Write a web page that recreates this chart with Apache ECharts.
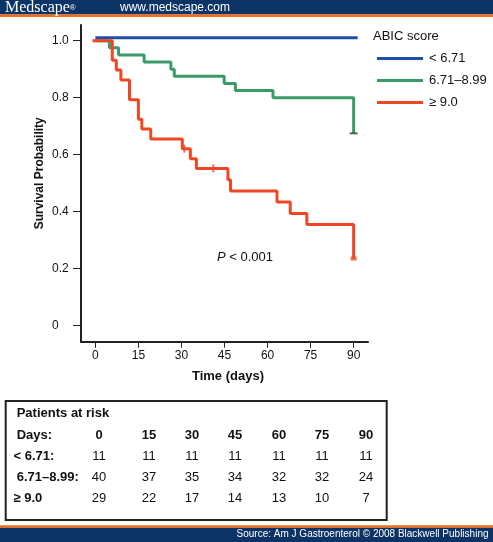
<!DOCTYPE html>
<html>
<head>
<meta charset="utf-8">
<script src="https://cdn.jsdelivr.net/npm/echarts@6/dist/echarts.min.js"></script>
<style>
html,body{margin:0;padding:0;background:#fff;}
#chart{width:493px;height:542px;}
</style>
</head>
<body>
<div id="chart"></div>
<script>
// ---- data ----
var seriesNames = ['< 6.71', '6.71\u20138.99', '\u2265 9.0'];
var lowScore = [[0, 1.01], [91.4, 1.01]];
var midScore = [[0, 1.0], [4.9, 0.975], [8.1, 0.95], [17, 0.925], [26.3, 0.9], [27.5, 0.875],
                [44.9, 0.85], [48.8, 0.825], [61.9, 0.8], [90, 0.675]];
var highScore = [[-1, 1.0], [5.9, 0.931], [7.3, 0.897], [8.9, 0.862], [11.9, 0.793], [15.0, 0.724],
                 [16.2, 0.69], [19.3, 0.655], [30.3, 0.621], [33.1, 0.586], [35.2, 0.552],
                 [46.2, 0.512], [47.1, 0.473], [63.3, 0.434], [67.9, 0.394], [73.7, 0.355], [90, 0.236]];
var highCensored = [[31, 0.621], [41.1, 0.552]];
var highEnd = [[90, 0.236]];
var midEnd = [[90, 0.675]];
var xTicks = [0, 15, 30, 45, 60, 75, 90];
var yTicks = [0, 0.2, 0.4, 0.6, 0.8, 1.0];
var riskDays = [0, 15, 30, 45, 60, 75, 90];
var riskLow = [11, 11, 11, 11, 11, 11, 11];
var riskMid = [40, 37, 35, 34, 32, 32, 24];
var riskHigh = [29, 22, 17, 14, 13, 10, 7];
var riskRowLabels = ['< 6.71:', '6.71\u20138.99:', '\u2265 9.0'];

// ---- styles / layout ----
var FONT = 'Liberation Sans, Arial, Helvetica, sans-serif';
var BLUE = '#1f4ea5', GREEN = '#3b9b68', RED = '#ef4723';
var NAVY = '#0b3365', ORANGE = '#ff6a10';
var colX = [99, 149, 192, 235, 279, 322, 366];
var rowY = [456.7, 477.3, 498.3];
var rowLabelX = [13.5, 16.7, 13.5];

var chart = echarts.init(document.getElementById('chart'), null, {renderer: 'canvas'});

var graphics = [
  {type: 'rect', shape: {x: 0, y: 0, width: 493, height: 14.5}, style: {fill: NAVY}},
  {type: 'rect', shape: {x: 0, y: 14.5, width: 493, height: 2.5}, style: {fill: ORANGE}},
  {type: 'text', x: 5, y: 7.5, style: {text: '{m|Medscape}{r|\u00ae}', verticalAlign: 'middle', fill: '#fff',
    rich: {m: {fontFamily: 'Liberation Serif, Times New Roman, serif', fontSize: 16, fill: '#fff'},
           r: {fontFamily: 'Liberation Sans, Arial, sans-serif', fontSize: 8, fill: '#fff'}}}},
  {type: 'text', x: 120, y: 7.5, style: {text: 'www.medscape.com', fontFamily: FONT, fontSize: 12, fill: '#fff', verticalAlign: 'middle'}},
  {type: 'rect', shape: {x: 0, y: 525.3, width: 493, height: 2.4}, style: {fill: ORANGE}},
  {type: 'rect', shape: {x: 0, y: 527.7, width: 493, height: 14.3}, style: {fill: NAVY}},
  {type: 'text', x: 488.5, y: 534.5, style: {text: 'Source: Am J Gastroenterol \u00a9 2008 Blackwell Publishing', fontFamily: FONT, fontSize: 10, fill: '#fff', align: 'right', verticalAlign: 'middle'}},
  {type: 'text', x: 40, y: 173.3, rotation: Math.PI / 2, style: {text: 'Survival Probability', fontFamily: FONT, fontSize: 12, fontWeight: 'bold', fill: '#111', align: 'center', verticalAlign: 'middle'}},
  {type: 'text', x: 228, y: 376, style: {text: 'Time (days)', fontFamily: FONT, fontSize: 13, fontWeight: 'bold', fill: '#111', align: 'center', verticalAlign: 'middle'}},
  {type: 'text', x: 373, y: 36.7, style: {text: 'ABIC score', fontFamily: FONT, fontSize: 13, fill: '#111', verticalAlign: 'middle'}},
  {type: 'text', x: 217, y: 257.3, style: {text: '{i|P} < 0.001', fontFamily: FONT, fontSize: 13, fill: '#111', verticalAlign: 'middle',
    rich: {i: {fontFamily: FONT, fontSize: 13, fontStyle: 'italic', fill: '#111'}}}},
  {type: 'rect', shape: {x: 5.7, y: 401, width: 381, height: 119}, style: {fill: '#fff', stroke: '#222', lineWidth: 2}},
  {type: 'text', x: 16.7, y: 413.3, style: {text: 'Patients at risk', fontFamily: FONT, fontSize: 13, fontWeight: 'bold', fill: '#111', verticalAlign: 'middle'}},
  {type: 'text', x: 16.7, y: 435, style: {text: 'Days:', fontFamily: FONT, fontSize: 13, fontWeight: 'bold', fill: '#111', verticalAlign: 'middle'}}
];
riskDays.forEach(function (d, i) {
  graphics.push({type: 'text', x: colX[i], y: 435, style: {text: String(d), fontFamily: FONT, fontSize: 13, fontWeight: 'bold', fill: '#111', align: 'center', verticalAlign: 'middle'}});
});
[riskLow, riskMid, riskHigh].forEach(function (row, r) {
  graphics.push({type: 'text', x: rowLabelX[r], y: rowY[r], style: {text: riskRowLabels[r], fontFamily: FONT, fontSize: 13, fontWeight: 'bold', fill: '#111', verticalAlign: 'middle'}});
  row.forEach(function (v, i) {
    graphics.push({type: 'text', x: colX[i], y: rowY[r], style: {text: String(v), fontFamily: FONT, fontSize: 13, fill: '#111', align: 'center', verticalAlign: 'middle'}});
  });
});

var option = {
  animation: false,
  backgroundColor: '#fff',
  grid: {left: 81, top: 25, width: 287, height: 316.7, containLabel: false},
  xAxis: {
    type: 'value', min: -5, max: 95,
    axisLine: {show: true, onZero: false, lineStyle: {color: '#222', width: 2}},
    axisTick: {show: true, customValues: xTicks, length: 6, lineStyle: {color: '#222', width: 1}},
    axisLabel: {customValues: xTicks, margin: 8, fontFamily: FONT, fontSize: 12, color: '#111'},
    splitLine: {show: false}
  },
  yAxis: {
    type: 'value', min: -0.056, max: 1.055,
    axisLine: {show: true, onZero: false, lineStyle: {color: '#222', width: 2}},
    axisTick: {show: true, customValues: yTicks, length: 8, lineStyle: {color: '#222', width: 1}},
    axisLabel: {customValues: yTicks, align: 'left', margin: 29, fontFamily: FONT, fontSize: 12, color: '#111',
      formatter: function (v) { return v === 0 ? '0' : v.toFixed(1); }},
    splitLine: {show: false}
  },
  legend: {
    orient: 'vertical', left: 372, top: 47, itemWidth: 46, itemHeight: 3, itemGap: 9, icon: 'rect',
    data: seriesNames, selectedMode: false,
    textStyle: {fontFamily: FONT, fontSize: 13, color: '#111', padding: [0, 0, 0, 1]}
  },
  series: [
    {name: seriesNames[0], type: 'line', data: lowScore, showSymbol: false, color: BLUE, lineStyle: {width: 3, color: BLUE}, z: 3},
    {name: seriesNames[1], type: 'line', step: 'end', data: midScore, showSymbol: false, color: GREEN, lineStyle: {width: 3, color: GREEN}, z: 2},
    {name: seriesNames[2], type: 'line', step: 'end', data: highScore, showSymbol: false, color: RED, lineStyle: {width: 3, color: RED}, z: 4},
    {name: 'censorHigh', type: 'scatter', data: highCensored, symbol: 'rect', symbolSize: [2, 8], itemStyle: {color: RED}, z: 5},
    {name: 'endHigh', type: 'scatter', data: highEnd, symbol: 'rect', symbolSize: [6, 4], itemStyle: {color: RED}, z: 5},
    {name: 'endMid', type: 'scatter', data: midEnd, symbol: 'rect', symbolSize: [8, 2], itemStyle: {color: '#2a4a38'}, z: 5}
  ],
  graphic: graphics
};
chart.setOption(option);
</script>
</body>
</html>
